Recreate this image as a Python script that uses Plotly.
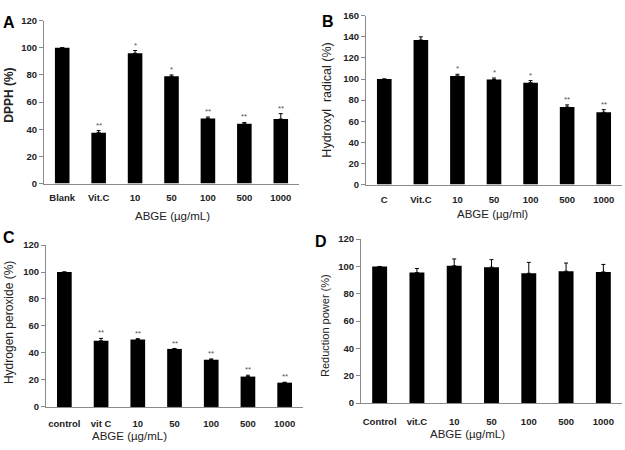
import plotly.graph_objects as go

# ---- data ----
cats_a = ["Blank", "Vit.C", "10", "50", "100", "500", "1000"]
vals_a = [100, 37.5, 96, 79, 48, 44, 47.5]
err_a = [0, 1.5, 2, 1, 1, 1, 4]
sig_a = ["", "**", "*", "*", "**", "**", "**"]

cats_b = ["C", "Vit.C", "10", "50", "100", "500", "1000"]
vals_b = [100, 137, 103, 99.5, 96.5, 73.5, 68.5]
err_b = [0, 3, 1.5, 1.5, 2, 2, 2.5]
sig_b = ["", "", "*", "*", "*", "**", "**"]

cats_c = ["control", "vit C", "10", "50", "100", "500", "1000"]
vals_c = [100, 49, 50, 43, 35, 22.5, 18]
err_c = [0, 1.8, 0.6, 0.3, 0.6, 1, 0.3]
sig_c = ["", "**", "**", "**", "**", "**", "**"]

cats_d = ["Control", "vit.C", "10", "50", "100", "500", "1000"]
vals_d = [100, 95.5, 100.5, 99.5, 95, 96.5, 96]
err_d = [0, 3, 5, 5.5, 8, 6, 5.5]
sig_d = ["", "", "", "", "", "", ""]

W, H = 625, 450
FONT = "Arial, Liberation Sans, sans-serif"
AXC = "#8a8a8a"

panels = [
    dict(c=cats_a, v=vals_a, e=err_a, s=sig_a, yt="<b>DPPH (%)</b>", xt="ABGE (µg/mL)", ymax=120,
         xd=(44, 299), yd=(15, 182), L="A", Lp=(9, 17), ytx=9, ytyc=92, xtp=(172, 215), ytfs=12, so=5),
    dict(c=cats_b, v=vals_b, e=err_b, s=sig_b, yt="Hydroxyl  radical (%)", xt="ABGE (µg/ml)", ymax=160,
         xd=(366, 622), yd=(10, 183), L="B", Lp=(328, 16), ytx=327, ytyc=97, xtp=(493, 213), ytfs=12.5, so=6),
    dict(c=cats_c, v=vals_c, e=err_c, s=sig_c, yt="Hydrogen peroxide (%)", xt="ABGE (µg/mL)", ymax=120,
         xd=(46, 303), yd=(245, 411), L="C", Lp=(9, 237), ytx=9, ytyc=325, xtp=(129, 441), ytfs=12, so=8),
    dict(c=cats_d, v=vals_d, e=err_d, s=sig_d, yt="Reduction power (%)", xt="ABGE (µg/mL)", ymax=120,
         xd=(361, 622), yd=(239, 407), L="D", Lp=(321, 241), ytx=325, ytyc=328, xtp=(467, 439), ytfs=11, so=10),
]

fig = go.Figure()
annotations = []
layout = {}
for i, p in enumerate(panels, start=1):
    xa = "x" if i == 1 else f"x{i}"
    ya = "y" if i == 1 else f"y{i}"
    xkey = "xaxis" if i == 1 else f"xaxis{i}"
    ykey = "yaxis" if i == 1 else f"yaxis{i}"
    fig.add_trace(go.Bar(
        x=p["c"], y=p["v"], xaxis=xa, yaxis=ya,
        marker=dict(color="black", line=dict(width=0)),
        error_y=dict(type="data", array=p["e"], arrayminus=[0] * len(p["e"]),
                     symmetric=False, color="black", thickness=1, width=2),
        showlegend=False, hoverinfo="skip",
    ))
    x0, x1 = p["xd"]
    y0, y1 = p["yd"]
    layout[xkey] = dict(
        domain=[x0 / W, x1 / W], anchor=ya, type="category",
        categoryorder="array", categoryarray=p["c"], range=[-0.5, len(p["c"]) - 0.5],
        autorange=False,
        showline=True, linecolor=AXC, linewidth=1, ticks="", showgrid=False,
        tickfont=dict(family=FONT, size=9.5, color="#222", weight="bold"),
        ticklabelstandoff=p["so"],
        fixedrange=True,
    )
    layout[ykey] = dict(
        domain=[1 - y1 / H, 1 - y0 / H], anchor=xa, range=[0, p["ymax"]], autorange=False,
        dtick=20, showline=True, linecolor=AXC, linewidth=1, ticks="outside",
        ticklen=4, tickcolor=AXC, showgrid=False, zeroline=False,
        tickfont=dict(family=FONT, size=9.5, color="#222", weight="bold"),
        fixedrange=True,
    )
    # significance marks (x given as category index on the category axis)
    for j, (val, er, s) in enumerate(zip(p["v"], p["e"], p["s"])):
        if s:
            annotations.append(dict(x=j, y=val + er, xref=xa, yref=ya, text=s, showarrow=False,
                                    yanchor="bottom", yshift=-1,
                                    font=dict(family=FONT, size=8, color="#555")))
    annotations.append(dict(x=p["Lp"][0] / W, y=1 - p["Lp"][1] / H, xref="paper", yref="paper",
                            text=f"<b>{p['L']}</b>", showarrow=False, xanchor="center", yanchor="middle",
                            font=dict(family=FONT, size=16, color="black")))
    annotations.append(dict(x=p["ytx"] / W, y=1 - p["ytyc"] / H, xref="paper", yref="paper",
                            text=p["yt"], textangle=-90, showarrow=False, xanchor="center", yanchor="middle",
                            font=dict(family=FONT, size=p["ytfs"], color="#222")))
    annotations.append(dict(x=p["xtp"][0] / W, y=1 - p["xtp"][1] / H, xref="paper", yref="paper",
                            text=p["xt"], showarrow=False, xanchor="center", yanchor="middle",
                            font=dict(family=FONT, size=11.5, color="#222")))

fig.update_layout(
    width=W, height=H, margin=dict(l=0, r=0, t=0, b=0),
    paper_bgcolor="white", plot_bgcolor="white",
    bargap=0.6, annotations=annotations, **layout,
)
fig.write_html("out.html")
